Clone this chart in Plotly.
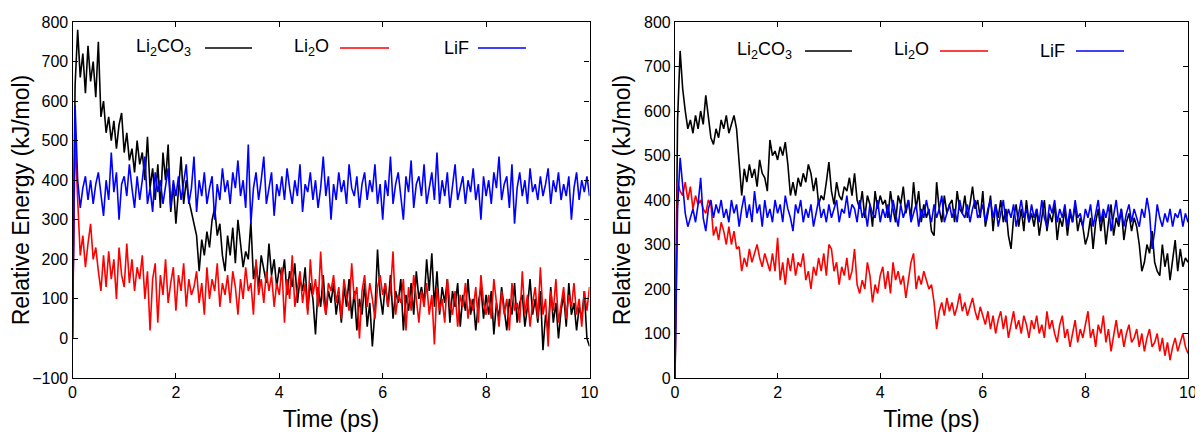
import numpy as np
import plotly.graph_objects as go

# sampling grid (ps)
time_ps = np.round(np.arange(0, 10.0001, 0.05), 2)

# ---- left panel ----
left_li2co3 = [0,
 640, 780, 660, 720, 620, 740, 650, 700, 610, 750, 560, 600, 520, 560, 500, 550, 480, 540, 570, 470,
 520, 450, 480, 420, 500, 440, 470, 400, 510, 380, 430, 350, 440, 330, 470, 400, 490, 320, 390, 290,
 380, 460, 340, 400, 350, 320, 290, 260, 170, 250, 210, 270, 230, 300, 330, 260, 290, 210, 170, 260,
 210, 280, 190, 300, 240, 180, 220, 200, 295, 150, 190, 130, 210, 170, 140, 240, 160, 200, 130, 180,
 150, 200, 110, 170, 130, 190, 90, 150, 120, 180, 70, 140, 100, 10, 130, 80, 160, 60, 120, 90,
 140, 60, 110, 40, 130, 80, 150, 50, 120, 20, 100, 60, 140, 30, 90, -20, 70, 225, 110, 60,
 140, 80, 160, 50, 120, 90, 150, 20, 110, 70, 140, 60, 170, 100, 130, 90, 200, 120, 215, 80,
 170, 60, 130, 90, 150, 40, 120, 80, 140, 30, 110, 70, 150, 60, 100, 20, 90, 130, 50, 110,
 60, 120, 10, 90, 50, 130, 70, 20, 100, 60, 140, 40, 90, 110, 30, 80, 150, 60, 100, 40,
 120, -30, 60, 20, 130, 40, 90, 0, 70, 110, 30, 140, 60, 90, 20, 80, 50, 120, 0, -20]

left_li2o = [0,
 515, 350, 210, 260, 180, 240, 290, 200, 230, 170, 120, 210, 130, 220, 150, 200, 100, 230, 160, 130,
 240, 140, 200, 120, 180, 150, 210, 100, 170, 20, 150, 190, 40, 160, 110, 200, 90, 140, 180, 70,
 160, 120, 190, 80, 150, 110, 130, 170, 90, 140, 60, 180, 100, 150, 120, 190, 80, 140, 110, 160,
 90, 170, 130, 60, 150, 100, 180, 120, 140, 60, 200, 110, 150, 90, 170, 120, 160, 80, 140, 110,
 180, 40, 150, 100, 210, 80, 130, 170, 90, 140, 60, 200, 110, 150, 80, 220, 100, 60, 140, 120,
 160, 90, 130, 50, 150, 110, 70, 190, 100, 130, 0, 120, 160, 80, 140, 100, 50, 130, 160, 110,
 140, 80, 120, 220, 60, 110, 90, 150, 20, 130, 70, 160, 100, 40, 120, 80, 140, 60, 110, -15,
 130, 70, 100, 40, 150, 90, 60, 120, 30, 110, 80, 140, 50, 100, 70, 130, 40, 160, 90, 60,
 110, 50, 150, 80, 30, 120, 60, 100, 20, 140, 70, 90, 40, 170, 60, 110, 30, 90, 130, 50,
 180, 60, 100, -20, 120, 70, 150, 40, 90, 130, 50, 110, 80, 140, 60, 100, 30, 120, 70, 130]

left_lif = [0,
 590, 400, 330, 380, 410, 350, 400, 340, 390, 420, 360, 310, 400, 350, 470, 370, 420, 300, 390, 410,
 360, 440, 380, 330, 410, 350, 400, 460, 340, 380, 320, 420, 370, 400, 340, 390, 430, 330, 400, 360,
 410, 350, 390, 440, 340, 380, 460, 320, 400, 360, 420, 340, 380, 410, 300, 390, 350, 430, 370, 400,
 340, 420, 380, 450, 360, 400, 330, 490, 290, 380, 420, 350, 400, 460, 340, 380, 420, 310, 390, 360,
 410, 350, 430, 380, 340, 400, 360, 440, 320, 390, 370, 420, 350, 400, 330, 380, 460, 360, 410, 300,
 390, 350, 420, 370, 400, 340, 440, 380, 360, 410, 330, 390, 420, 350, 400, 370, 440, 340, 390, 300,
 400, 360, 460, 340, 390, 420, 350, 300, 410, 370, 450, 330, 390, 410, 360, 440, 340, 380, 420, 350,
 470, 340, 400, 360, 420, 330, 390, 440, 350, 380, 410, 340, 400, 370, 430, 350, 390, 300, 410, 360,
 400, 340, 420, 380, 460, 350, 390, 410, 330, 440, 290, 380, 420, 360, 400, 340, 430, 370, 390, 350,
 410, 360, 390, 430, 340, 400, 370, 420, 350, 390, 360, 410, 300, 380, 420, 350, 400, 370, 410, 360]

# ---- right panel ----
right_li2co3 = [0,
 580, 735, 650, 600, 560, 580, 550, 590, 560, 600, 570, 635, 580, 540, 525, 560, 540, 580, 560, 590,
 550, 570, 590, 560, 490, 410, 470, 440, 480, 450, 470, 430, 490, 460, 450, 420, 535, 500, 510, 490,
 520, 500, 530, 480, 410, 440, 410, 450, 430, 460, 440, 480, 460, 420, 450, 390, 410, 400, 440, 485,
 420, 390, 440, 410, 400, 430, 420, 450, 410, 460, 400, 380, 420, 360, 410, 390, 340, 420, 380, 410,
 390, 400, 360, 420, 380, 350, 410, 390, 430, 370, 400, 360, 440, 380, 420, 350, 390, 360, 380, 330,
 320, 440, 380, 350, 410, 370, 390, 400, 350, 420, 380, 370, 410, 360, 390, 430, 380, 400, 360, 420,
 340, 370, 410, 330, 390, 360, 400, 350, 380, 320, 290, 360, 390, 340, 380, 330, 400, 350, 370, 340,
 380, 320, 360, 400, 330, 370, 350, 390, 310, 360, 340, 380, 320, 370, 350, 390, 330, 360, 340, 300,
 320, 360, 290, 350, 380, 330, 370, 300, 350, 390, 320, 360, 340, 380, 310, 350, 370, 330, 360, 340,
 300, 240, 260, 300, 280, 330, 260, 240, 230, 300, 250, 280, 220, 260, 310, 240, 290, 250, 270, 260]

right_li2o = [0,
 440, 420, 410, 440, 400, 430, 380, 410, 390, 400, 380, 370, 400, 390, 320, 340, 310, 350, 330, 300,
 340, 300, 330, 290, 295, 240, 270, 250, 290, 260, 280, 300, 270, 250, 280, 260, 240, 280, 240, 315,
 220, 260, 210, 270, 240, 280, 230, 260, 250, 280, 220, 240, 200, 250, 230, 270, 240, 280, 230, 300,
 290, 240, 260, 210, 250, 230, 270, 220, 240, 290, 210, 190, 220, 200, 260, 230, 170, 210, 190, 230,
 250, 200, 240, 190, 260, 220, 240, 210, 230, 180, 220, 260, 280, 200, 230, 210, 240, 220, 200, 210,
 170, 110, 150, 170, 140, 180, 150, 170, 140, 160, 190, 150, 170, 140, 160, 180, 150, 130, 160, 140,
 120, 150, 110, 140, 100, 130, 150, 110, 140, 90, 120, 150, 110, 130, 100, 140, 120, 90, 130, 110,
 140, 100, 120, 90, 150, 110, 130, 100, 80, 120, 140, 90, 110, 70, 100, 130, 80, 110, 90, 120,
 150, 90, 110, 70, 120, 100, 140, 80, 110, 60, 100, 130, 90, 110, 70, 100, 120, 80, 90, 110,
 70, 100, 60, 90, 110, 70, 80, 100, 60, 90, 50, 80, 40, 70, 90, 60, 80, 100, 70, 55]

right_lif = [0,
 380, 495, 440, 370, 340, 360, 380, 350, 390, 450, 360, 330, 380, 400, 360, 390, 370, 400, 360, 380,
 350, 400, 370, 390, 340, 380, 410, 360, 390, 350, 420, 370, 390, 340, 400, 360, 380, 350, 400, 370,
 390, 350, 410, 380, 360, 330, 390, 370, 400, 350, 380, 360, 390, 340, 370, 400, 360, 380, 350, 390,
 360, 380, 400, 350, 380, 370, 410, 360, 390, 380, 350, 400, 360, 380, 340, 390, 370, 360, 400, 350,
 380, 360, 390, 350, 400, 370, 340, 390, 360, 380, 400, 350, 370, 390, 340, 380, 360, 400, 370, 350,
 390, 360, 380, 410, 350, 370, 390, 360, 380, 350, 400, 370, 360, 390, 350, 380, 400, 360, 370, 390,
 350, 380, 400, 360, 390, 340, 370, 400, 350, 380, 360, 390, 340, 370, 400, 360, 380, 350, 390, 360,
 380, 350, 400, 360, 340, 390, 370, 400, 350, 380, 360, 390, 340, 380, 350, 400, 360, 370, 340, 380,
 360, 390, 340, 370, 400, 350, 380, 360, 390, 330, 370, 400, 350, 380, 340, 370, 390, 350, 380, 360,
 340, 380, 360, 405, 370, 290, 330, 390, 360, 340, 370, 350, 380, 340, 370, 360, 380, 340, 370, 350]

series_names = ["Li<sub>2</sub>CO<sub>3</sub>", "Li<sub>2</sub>O", "LiF"]
series_colors = ["#000000", "#ff0000", "#0000ff"]

x_ticks = [0, 2, 4, 6, 8, 10]
left_y_ticks = [-100, 0, 100, 200, 300, 400, 500, 600, 700, 800]
right_y_ticks = [0, 100, 200, 300, 400, 500, 600, 700, 800]

# the page body adds an 8px offset; lay the figure out in window pixels minus that
OFF = 8
W, H = 1203 - OFF, 432 - OFF
def px(xp):
    return (xp - OFF) / W
def py(yp):
    return 1 - (yp - OFF) / H

FONT = "Liberation Sans, Arial, Helvetica, sans-serif"

fig = go.Figure()

panels = [
    ("x", "y", [left_li2co3, left_li2o, left_lif]),
    ("x2", "y2", [right_li2co3, right_li2o, right_lif]),
]
for xa, ya, data in panels:
    for vals, name, col in zip(data, series_names, series_colors):
        assert len(vals) == len(time_ps)
        fig.add_trace(go.Scatter(x=time_ps, y=vals, mode="lines", name=name,
                                 xaxis=xa, yaxis=ya, showlegend=False,
                                 line=dict(color=col, width=1.6)))

axis_common = dict(showline=True, linecolor="black", linewidth=1.2, mirror="ticks",
                   ticks="inside", ticklen=5, tickcolor="black", tickwidth=1,
                   showgrid=False, zeroline=False, automargin=False,
                   tickfont=dict(family=FONT, size=16, color="black"))

ydom = [py(378), py(22)]
fig.update_layout(
    width=W, height=H,
    margin=dict(l=0, r=0, t=0, b=0, autoexpand=False),
    paper_bgcolor="white", plot_bgcolor="white",
    font=dict(family=FONT, color="black"),
    xaxis=dict(domain=[px(72.5), px(589.5)], range=[0, 10], tickvals=x_ticks,
               title=dict(text="Time (ps)", font=dict(size=23), standoff=11),
               anchor="y", **axis_common),
    yaxis=dict(domain=ydom, range=[-100, 800], tickvals=left_y_ticks,
               title=dict(text="Relative Energy (kJ/mol)", font=dict(size=23), standoff=4),
               anchor="x", **axis_common),
    xaxis2=dict(domain=[px(675), px(1188)], range=[0, 10], tickvals=x_ticks,
                title=dict(text="Time (ps)", font=dict(size=23), standoff=11),
                anchor="y2", **axis_common),
    yaxis2=dict(domain=ydom, range=[0, 800], tickvals=right_y_ticks,
                title=dict(text="Relative Energy (kJ/mol)", font=dict(size=23), standoff=6),
                anchor="x2", **axis_common),
)

# in-plot key: label text followed by a line sample (gnuplot style)
legend_layout = [
    # (text right edge px, line start px, line end px, y px)
    [(193, 205, 252, 48), (331, 340, 389, 48), (471, 478, 526, 48)],
    [(794, 805, 852, 51), (931, 940, 988, 51), (1067, 1076, 1124, 51)],
]
for panel in legend_layout:
    for (tx, x0, x1, yy), name, col in zip(panel, series_names, series_colors):
        fig.add_annotation(x=px(tx), y=py(yy), xref="paper", yref="paper",
                           text=name, showarrow=False, xanchor="right", yanchor="middle",
                           font=dict(family=FONT, size=18, color="black"))
        fig.add_shape(type="line", xref="paper", yref="paper",
                      x0=px(x0), x1=px(x1), y0=py(yy), y1=py(yy),
                      line=dict(color=col, width=1.6))

fig.write_html("out.html")
